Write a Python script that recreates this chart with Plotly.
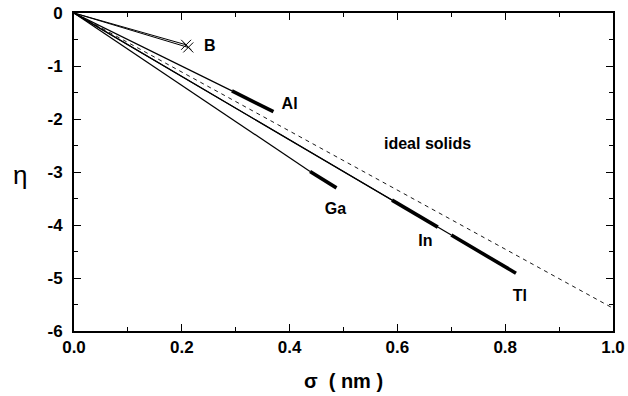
import plotly.graph_objects as go

# Element lines: origin -> knee (thin), knee -> end (thick)
elements = ["Al", "Ga", "In", "Tl"]
sigma_knee = [0.293, 0.438, 0.590, 0.700]
eta_knee = [-1.47, -2.99, -3.53, -4.19]
sigma_end = [0.370, 0.487, 0.675, 0.820]
eta_end = [-1.86, -3.30, -4.04, -4.91]

# Boron: two thin lines ending in cross markers
b_sigma = [0.208, 0.212]
b_eta = [-0.60, -0.65]

# Ideal solids reference (dashed)
ideal_sigma = [0.0, 1.0]
ideal_eta = [0.0, -5.57]

# Text labels
label_text = ["B", "Al", "ideal solids", "Ga", "In", "Tl"]
label_sigma = [0.252, 0.400, 0.656, 0.485, 0.652, 0.827]
label_eta = [-0.64, -1.73, -2.49, -3.72, -4.32, -5.36]

# Axis ticks
x_ticks = [0.0, 0.2, 0.4, 0.6, 0.8, 1.0]
x_ticktext = ["0.0", "0.2", "0.4", "0.6", "0.8", "1.0"]
y_ticks = [0, -1, -2, -3, -4, -5, -6]
y_ticktext = ["0", "-1", "-2", "-3", "-4", "-5", "-6"]

FONT = "Liberation Sans"

fig = go.Figure()

fig.add_trace(go.Scatter(x=ideal_sigma, y=ideal_eta, mode="lines",
                         line=dict(color="black", width=0.9, dash="4px,4px")))

for s, e in zip(b_sigma, b_eta):
    fig.add_trace(go.Scatter(x=[0, s], y=[0, e], mode="lines",
                             line=dict(color="black", width=1)))
    fig.add_trace(go.Scatter(x=[s], y=[e], mode="markers",
                             marker=dict(symbol="x-thin", size=10,
                                         line=dict(color="black", width=1))))

for name, sk, ek, se, ee in zip(elements, sigma_knee, eta_knee, sigma_end, eta_end):
    fig.add_trace(go.Scatter(x=[0, sk], y=[0, ek], mode="lines", name=name,
                             line=dict(color="black", width=1.2)))
    fig.add_trace(go.Scatter(x=[sk, se], y=[ek, ee], mode="lines", name=name,
                             line=dict(color="black", width=3.6)))

fig.add_trace(go.Scatter(x=label_sigma, y=label_eta, mode="text",
                         text=["<b>%s</b>" % t for t in label_text],
                         textposition="middle center",
                         textfont=dict(family=FONT, size=16, color="black")))

axis_common = dict(
    showline=True, linecolor="black", linewidth=2, mirror="ticks",
    ticks="inside", ticklen=7, tickwidth=1.2, tickcolor="black",
    showgrid=False, zeroline=False, automargin=False,
    tickfont=dict(family=FONT, size=17, color="black", weight="bold"),
)

fig.update_xaxes(range=[0, 1], tickmode="array", tickvals=x_ticks,
                 ticktext=x_ticktext,
                 minor=dict(dtick=0.1, ticks="inside", ticklen=4,
                            tickcolor="black", tickwidth=1),
                 title=dict(text="<b>σ  ( nm )</b>", standoff=18,
                            font=dict(family=FONT, size=20, color="black")),
                 **axis_common)
fig.update_yaxes(range=[-6, 0], tickmode="array", tickvals=y_ticks,
                 ticktext=y_ticktext,
                 minor=dict(dtick=0.5, ticks="inside", ticklen=4,
                            tickcolor="black", tickwidth=1),
                 ticklabelstandoff=6,
                 **axis_common)

# Upright y-axis symbol
fig.add_annotation(text="η", xref="paper", yref="paper", x=-0.1, y=0.49,
                   xanchor="center", yanchor="middle", showarrow=False,
                   font=dict(family=FONT, size=26, color="black"))

fig.update_layout(
    width=628, height=396,
    margin=dict(l=74, r=15, t=13, b=65),
    paper_bgcolor="white", plot_bgcolor="white",
    showlegend=False,
)

fig.write_html("out.html")
